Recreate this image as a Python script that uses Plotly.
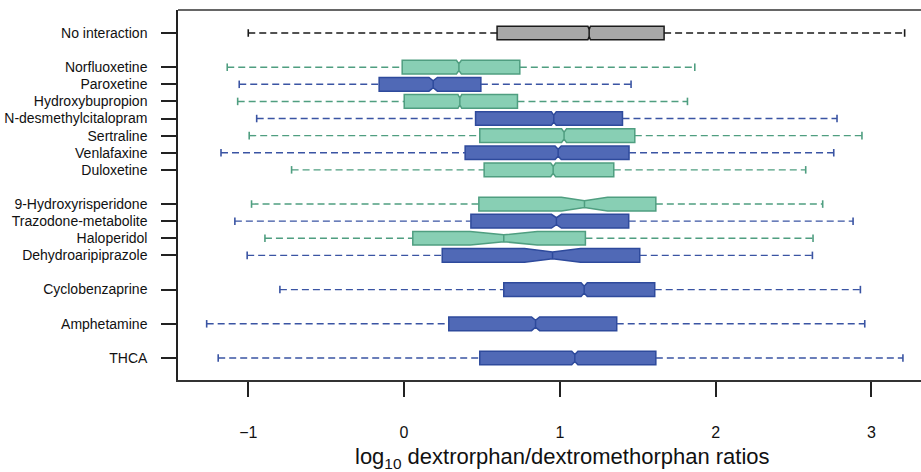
import plotly.graph_objects as go

# Drug groups, bottom row first
labels = ["THCA", "Amphetamine", "Cyclobenzaprine",
          "Dehydroaripiprazole", "Haloperidol", "Trazodone-metabolite", "9-Hydroxyrisperidone",
          "Duloxetine", "Venlafaxine", "Sertraline", "N-desmethylcitalopram",
          "Hydroxybupropion", "Paroxetine", "Norfluoxetine",
          "No interaction"]
positions = [0, 2, 4, 6, 7, 8, 9, 11, 12, 13, 14, 15, 16, 17, 19]
groups = ["blue", "blue", "blue",
          "blue", "green", "blue", "green",
          "green", "blue", "green", "blue",
          "green", "blue", "green",
          "gray"]

# Summary statistics of log10 dextrorphan/dextromethorphan ratios
whisker_lo = [-1.193, -1.267, -0.797, -1.007, -0.893, -1.086, -0.979,
              -0.722, -1.175, -0.994, -0.946, -1.068, -1.058, -1.135, -1.000]
q1 = [0.486, 0.287, 0.640, 0.245, 0.056, 0.429, 0.480,
      0.514, 0.392, 0.486, 0.459, 0.001, -0.160, -0.012, 0.597]
median = [1.096, 0.844, 1.156, 0.953, 0.640, 0.978, 1.158,
          0.957, 0.989, 1.027, 0.961, 0.358, 0.187, 0.352, 1.188]
q3 = [1.616, 1.365, 1.609, 1.513, 1.164, 1.442, 1.616,
      1.346, 1.444, 1.481, 1.402, 0.728, 0.493, 0.743, 1.669]
whisker_hi = [3.202, 2.957, 2.929, 2.621, 2.625, 2.882, 2.687,
              2.578, 2.758, 2.939, 2.779, 1.819, 1.457, 1.866, 3.213]
notch = [0.020, 0.026, 0.020, 0.180, 0.215, 0.032, 0.148,
         0.016, 0.020, 0.016, 0.016, 0.012, 0.027, 0.016, 0.008]

styles = {
    "blue": dict(fill="#5069B6", edge="#2E4A9C", whisk="#3A54A3"),
    "green": dict(fill="#88CFB4", edge="#4F9E80", whisk="#4F9E80"),
    "gray": dict(fill="#A8A8A8", edge="#1A1A1A", whisk="#1A1A1A"),
}

FONT = "Liberation Sans, Arial, sans-serif"
BOX_W = 0.8
CAP = 0.22

fig = go.Figure()

for g in ["gray", "green", "blue"]:
    idx = [i for i, gg in enumerate(groups) if gg == g]
    st = styles[g]
    # dashed whiskers
    wx, wy = [], []
    for i in idx:
        wx += [whisker_lo[i], q1[i], None, q3[i], whisker_hi[i], None]
        wy += [positions[i], positions[i], None, positions[i], positions[i], None]
    fig.add_trace(go.Scatter(x=wx, y=wy, mode="lines", showlegend=False,
                             hoverinfo="skip",
                             line=dict(color=st["whisk"], width=1.4, dash="7px,4px")))
    # whisker end caps
    cx, cy = [], []
    for i in idx:
        for v in (whisker_lo[i], whisker_hi[i]):
            cx += [v, v, None]
            cy += [positions[i] - CAP, positions[i] + CAP, None]
    fig.add_trace(go.Scatter(x=cx, y=cy, mode="lines", showlegend=False,
                             hoverinfo="skip",
                             line=dict(color=st["whisk"], width=1.6)))
    # notched boxes
    fig.add_trace(go.Box(
        orientation="h",
        y=[positions[i] for i in idx],
        q1=[q1[i] for i in idx],
        median=[median[i] for i in idx],
        q3=[q3[i] for i in idx],
        lowerfence=[q1[i] for i in idx],
        upperfence=[q3[i] for i in idx],
        notchspan=[notch[i] for i in idx],
        notched=True,
        notchwidth=0.25,
        width=BOX_W,
        whiskerwidth=0,
        fillcolor=st["fill"],
        line=dict(color=st["edge"], width=1.5),
        boxpoints=False,
        showlegend=False,
    ))

fig.update_layout(
    width=921, height=472,
    margin=dict(l=178, r=0, t=10, b=92),
    paper_bgcolor="white", plot_bgcolor="white",
    font=dict(family=FONT, color="#111111"),
    showlegend=False,
    xaxis=dict(range=[-1.451, 3.318], tickvals=[-1, 0, 1, 2, 3],
               showgrid=False, zeroline=False, showline=True,
               linecolor="#333333", linewidth=1.5,
               ticks="outside", ticklen=15, tickwidth=1.5, tickcolor="#222222",
               tickfont=dict(size=16, family=FONT), ticklabelstandoff=22),
    yaxis=dict(range=[-1.286, 20.345], tickvals=positions, ticktext=labels,
               showgrid=False, zeroline=False, showline=True,
               linecolor="#222222", linewidth=1.5,
               ticks="outside", ticklen=15, tickwidth=1.5, tickcolor="#222222",
               tickfont=dict(size=14, family=FONT), ticklabelstandoff=11),
    shapes=[dict(type="line", xref="paper", yref="paper", x0=0, x1=1, y0=1, y1=1,
                 line=dict(color="#333333", width=1.5))],
    annotations=[dict(text="log<sub>10</sub> dextrorphan/dextromethorphan ratios",
                      xref="paper", yref="paper", x=0.517, y=-0.212,
                      xanchor="center", yanchor="middle", showarrow=False,
                      font=dict(size=22, family=FONT, color="#111111"))],
)

fig.write_html("out.html")
